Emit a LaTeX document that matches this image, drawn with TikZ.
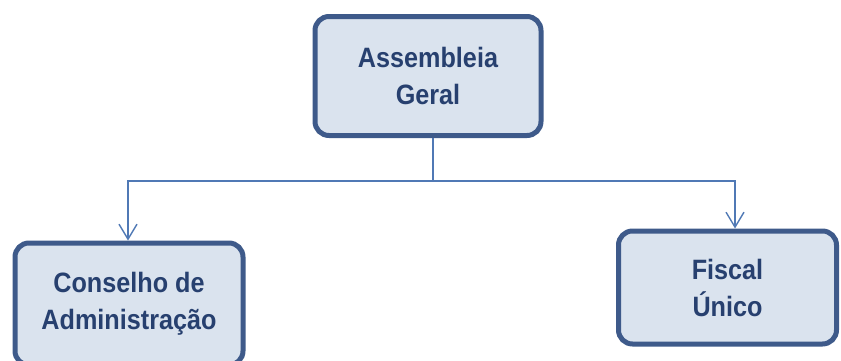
\documentclass[tikz,border=0pt]{standalone}
\usepackage{fontspec}
\setmainfont[FakeStretch=0.9]{Liberation Sans}
\usetikzlibrary{arrows.meta}
\definecolor{boxfill}{HTML}{DAE3EE}
\definecolor{boxline}{HTML}{3E5A8A}
\definecolor{txt}{HTML}{27406F}
\definecolor{conn}{HTML}{5079B5}
\tikzset{
  orgbox/.style={draw=boxline, line width=5pt, fill=boxfill, rounded corners=14pt,
    text=txt, align=center, inner sep=0pt,
    font=\bfseries\fontsize{28}{37}\selectfont},
  conline/.style={draw=conn, line width=1.4pt},
  conarrow/.style={conline, -{Straight Barb[length=15pt,width=18pt,line width=1.4pt]}}
}
\begin{document}
\begin{tikzpicture}[x=1pt,y=-1pt]
\useasboundingbox (0,0) rectangle (841,360);
\node[orgbox, minimum width=226pt, minimum height=119pt] (top) at (428,76) {Assembleia\\Geral};
\node[orgbox, minimum width=228pt, minimum height=122pt] (left) at (129,304) {Conselho de\\Administração};
\node[orgbox, minimum width=218pt, minimum height=113pt] (right) at (727.5,287.5) {Fiscal\\Único};
\coordinate (j) at (433,181);
\coordinate (ra) at (735,181);
\coordinate (la) at (128,181);
\draw[conline] ([xshift=5pt]top.south) -- (j);
\draw[conarrow] (j) -- (la) -- (la |- left.north);
\draw[conarrow] (j) -- (ra) -- (ra |- right.north);
\end{tikzpicture}
\end{document}
